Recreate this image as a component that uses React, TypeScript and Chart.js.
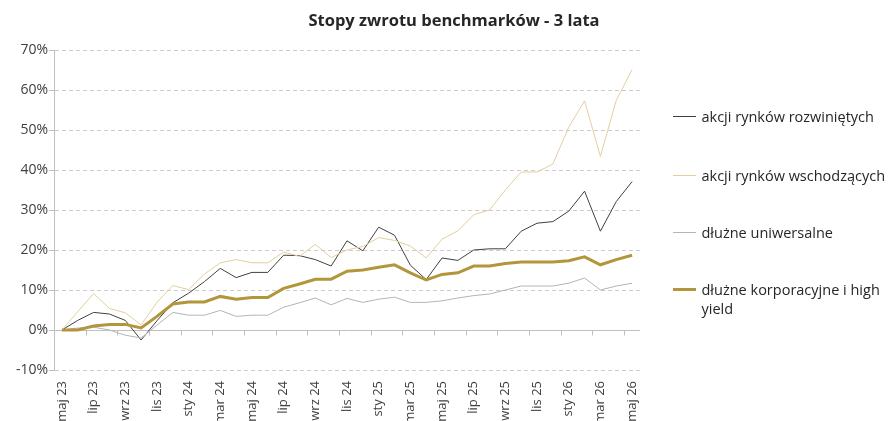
import React, { useEffect, useRef } from "react";
import { Chart, registerables } from "chart.js";

Chart.register(...registerables);

const categories = [
  "maj 23", "cze 23", "lip 23", "sie 23", "wrz 23", "paź 23", "lis 23", "gru 23",
  "sty 24", "lut 24", "mar 24", "kwi 24", "maj 24", "cze 24", "lip 24", "sie 24",
  "wrz 24", "paź 24", "lis 24", "gru 24", "sty 25", "lut 25", "mar 25", "kwi 25",
  "maj 25", "cze 25", "lip 25", "sie 25", "wrz 25", "paź 25", "lis 25", "gru 25",
  "sty 26", "lut 26", "mar 26", "kwi 26", "maj 26",
];

const developed = [
  0, 2.4, 4.4, 4.0, 2.4, -2.5, 2.3, 6.8, 9.2, 12.1, 15.4, 13.1, 14.4, 14.4, 18.7, 18.6,
  17.6, 16.0, 22.3, 19.8, 25.7, 23.7, 16.2, 12.6, 18.0, 17.4, 20.0, 20.3, 20.3, 24.7,
  26.7, 27.1, 29.7, 34.7, 24.7, 32.1, 37.1,
];

const emerging = [
  0, 4.6, 9.1, 5.4, 4.3, 1.3, 6.9, 11.1, 10.1, 14.0, 16.8, 17.6, 16.8, 16.8, 19.5, 18.4,
  21.4, 18.1, 20.0, 20.9, 23.1, 22.4, 21.0, 18.0, 22.7, 24.8, 28.8, 30.0, 35.0, 39.5,
  39.5, 41.5, 50.7, 57.3, 43.4, 57.4, 65.1,
];

const universal = [
  0, 0.5, 0.7, 0, -1.3, -2.0, 1.2, 4.4, 3.7, 3.7, 4.9, 3.4, 3.7, 3.7, 5.7, 6.8,
  8.0, 6.3, 7.9, 6.9, 7.7, 8.2, 6.9, 6.9, 7.3, 8.0, 8.6, 9.0, 10.0, 11.0,
  11.0, 11.0, 11.7, 13.0, 10.0, 11.0, 11.7,
];

const corporate = [
  0, 0, 1.0, 1.4, 1.4, 0.5, 3.4, 6.5, 7.0, 7.0, 8.4, 7.7, 8.1, 8.1, 10.4, 11.5,
  12.7, 12.7, 14.7, 15.0, 15.7, 16.3, 14.3, 12.5, 13.9, 14.3, 16.0, 16.0, 16.6, 17.0,
  17.0, 17.0, 17.3, 18.3, 16.3, 17.6, 18.7,
];

const seriesNames = [
  "akcji rynków rozwiniętych",
  "akcji rynków wschodzących",
  "dłużne uniwersalne",
  "dłużne korporacyjne i high yield",
];
const seriesColors = ["#404040", "#e3cf9e", "#b4b4b4", "#b3953b"];
const seriesWidths = [1, 1, 1, 3];
const seriesData = [developed, emerging, universal, corporate];

const yMin = -10;
const yMax = 70;
const yStep = 10;

const title = "Stopy zwrotu benchmarków - 3 lata";

const FONT = "'Open Sans', 'Noto Sans', sans-serif";
const AXIS_COLOR = "#bfbfbf";
const GRID_COLOR = "#cccccc";

const zeroAxisTicks = {
  id: "zeroAxisTicks",
  beforeDatasetsDraw(chart: any) {
    const x = chart.scales.x;
    const y = chart.scales.y;
    const ctx = chart.ctx;
    const y0 = Math.round(y.getPixelForValue(0)) + 0.5;
    const half = (x.getPixelForValue(1) - x.getPixelForValue(0)) / 2;
    ctx.save();
    ctx.strokeStyle = AXIS_COLOR;
    ctx.lineWidth = 1;
    for (let i = 0; i < categories.length; i += 2) {
      const px = Math.round(x.getPixelForValue(i) - half) + 0.5;
      ctx.beginPath();
      ctx.moveTo(px, y0);
      ctx.lineTo(px, y0 + 5);
      ctx.stroke();
    }
    ctx.restore();
  },
};

const legendPos = [108, 167, 224.5, 281];

export default function App() {
  const ref = useRef<HTMLCanvasElement | null>(null);

  useEffect(() => {
    if (!ref.current) return;
    const chart = new Chart(ref.current, {
      type: "line",
      data: {
        labels: categories,
        datasets: seriesData.map((d, i) => ({
          label: seriesNames[i],
          data: d,
          borderColor: seriesColors[i],
          backgroundColor: seriesColors[i],
          borderWidth: seriesWidths[i],
          pointRadius: 0,
          tension: 0,
          fill: false,
          order: 4 - i,
        })),
      },
      options: {
        animation: false,
        responsive: false,
        events: [],
        layout: { padding: 0 },
        plugins: {
          legend: { display: false },
          tooltip: { enabled: false },
          title: {
            display: true,
            text: title,
            color: "#262626",
            font: { family: FONT, size: 16.5, weight: "bold", lineHeight: 1.2 },
            padding: { top: 3.1, bottom: 19.1 },
          },
        },
        scales: {
          x: {
            type: "category",
            offset: true,
            grid: { display: false },
            border: { display: false },
            ticks: {
              autoSkip: false,
              maxRotation: 90,
              minRotation: 90,
              padding: 3,
              color: "#404040",
              font: { family: FONT, size: 13 },
              callback: (_v: any, idx: number) => (idx % 2 === 0 ? categories[idx] : ""),
            },
            afterFit: (s: any) => {
              s.height = 51;
            },
          },
          y: {
            type: "linear",
            position: "left",
            min: yMin,
            max: yMax,
            ticks: {
              stepSize: yStep,
              padding: 1,
              color: "#404040",
              font: { family: FONT, size: 14 },
              callback: (v: any) => `${v}%`,
            },
            grid: {
              color: (c: any) => (c.tick && c.tick.value === 0 ? AXIS_COLOR : GRID_COLOR),
              tickColor: AXIS_COLOR,
              tickLength: 5,
              lineWidth: 1,
            },
            border: {
              display: true,
              color: AXIS_COLOR,
              width: 1,
              dash: (c: any) => (c.tick && c.tick.value !== 0 ? [4, 3] : []),
            },
            afterFit: (s: any) => {
              s.width = 46;
            },
          },
          yRight: {
            type: "linear",
            axis: "y",
            position: "right",
            display: true,
            grid: { display: false },
            border: { display: false },
            ticks: { display: false },
            afterFit: (s: any) => {
              s.width = 260;
            },
          },
        },
      },
      plugins: [zeroAxisTicks],
    } as any);
    return () => chart.destroy();
  }, []);

  return (
    <div style={{ position: "relative", width: 876, height: 413, overflow: "hidden" }}>
      <canvas ref={ref} width={892} height={413} style={{ display: "block" }} />
      {seriesNames.map((name, i) => {
        const lines = i === 3 ? ["dłużne korporacyjne i high", "yield"] : [name];
        return (
          <div
            key={name}
            style={{
              position: "absolute",
              left: 664.5,
              top: legendPos[i] - 9.5,
              display: "flex",
              alignItems: "flex-start",
              fontFamily: FONT,
              fontSize: 14.5,
              lineHeight: "19px",
              color: "#262626",
              whiteSpace: "nowrap",
            }}
          >
            <span
              style={{
                display: "inline-block",
                width: 23,
                height: seriesWidths[i],
                marginTop: 9.5 - seriesWidths[i] / 2,
                background: seriesColors[i],
                marginRight: 6,
                flex: "none",
              }}
            />
            <span>
              {lines.map((l, k) => (
                <div key={k}>{l}</div>
              ))}
            </span>
          </div>
        );
      })}
    </div>
  );
}
